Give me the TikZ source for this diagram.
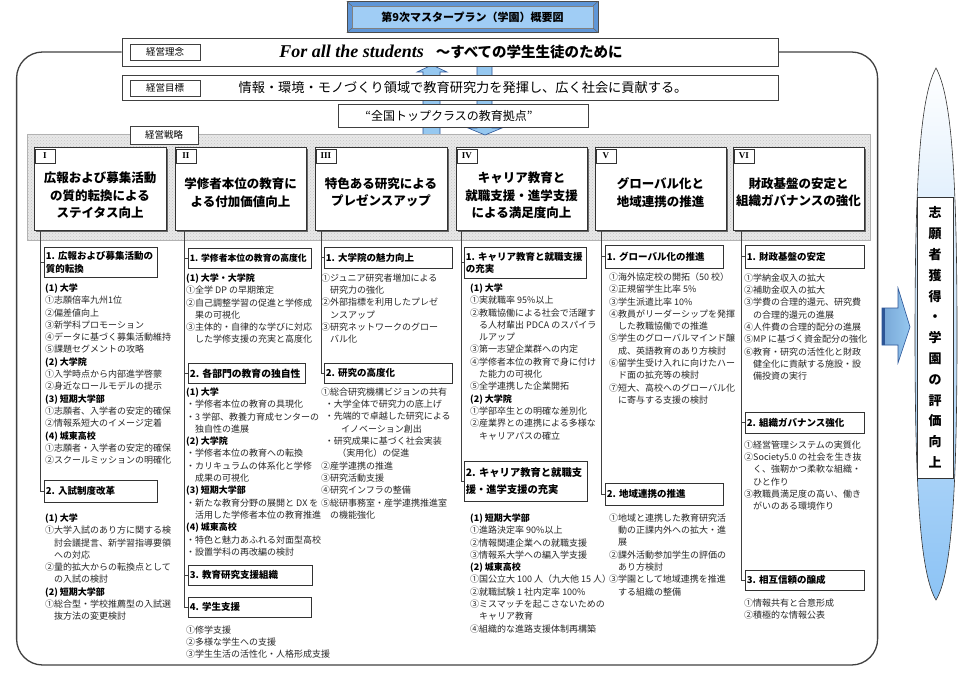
\documentclass[tikz,border=0pt]{standalone}
\usepackage{fontspec}
\setmainfont{Noto Sans CJK JP}
\newfontfamily\lat{Liberation Serif}
\usepackage{tikz}
\usetikzlibrary{positioning,shadows,patterns}
\definecolor{arrfill}{RGB}{150,200,240}
\definecolor{arrline}{RGB}{45,85,150}
\definecolor{ttlfill}{RGB}{160,205,245}
\definecolor{ttldark}{RGB}{95,150,215}
\definecolor{goalbot}{RGB}{140,195,245}
\newcommand\grp[1]{{\bfseries\color{black}#1}}
\newcommand\indt{\hspace*{1em}}
\tikzset{
  hd/.style    ={draw=black!75,fill=white,line width=0.8pt,minimum width=656pt,
                 inner sep=0pt},
  lbl/.style   ={draw=black!75,fill=white,line width=0.6pt,minimum width=70pt,
                 minimum height=16pt,inner sep=0pt,font=\fontsize{9.5}{10}\selectfont},
  sbox/.style  ={draw=black!80,fill=white,line width=0.7pt,minimum height=83pt,
                 inner sep=0pt,drop shadow={shadow xshift=2pt,shadow yshift=-2pt,
                 fill=black!60,opacity=1}},
  stitle/.style={align=center,inner sep=0pt,font=\bfseries\fontsize{12.5}{17.5}\selectfont},
  tag/.style   ={draw=black!80,fill=white,line width=0.6pt,minimum width=20pt,
                 minimum height=14pt,inner sep=0pt,anchor=north west,
                 font=\lat\bfseries\fontsize{9}{10}\selectfont,
                 drop shadow={shadow xshift=1.5pt,shadow yshift=-1.5pt,fill=black!55,opacity=1}},
  sub/.style 2 args={draw=black!80,fill=white,line width=0.6pt,anchor=north west,
                 align=left,inner xsep=1.5pt,inner ysep=0pt,text width=#1,minimum height=#2,
                 font=\bfseries\fontsize{9.5}{12.5}\selectfont,
                 drop shadow={shadow xshift=1pt,shadow yshift=-1pt,fill=black!45,opacity=1}},
  txt/.style   ={anchor=north west,align=left,inner sep=0pt,text=black!85,
                 font=\fontsize{9}{12.3}\selectfont},
  link/.style  ={draw=black!75,line width=0.7pt},
  frame/.style ={draw=black!75,line width=1.3pt,rounded corners=26pt},
  blk/.style   ={fill=arrfill,draw=arrline,line width=0.6pt},
}

\begin{document}
\begin{tikzpicture}[x=1pt,y=-1pt]
\useasboundingbox (0,0) rectangle (960,700);

%% ---------------- top: philosophy, goal, strategy panel ----------------
\node[hd,minimum height=28pt] (rinen) at (450,52) {};
\draw[frame] (rinen.west) -- ++(-105,0) -- ++(0,613) -- ++(861,0) -- ++(0,-613) -- (rinen.east);

\fill[preaction={fill=black!9},pattern=crosshatch dots,pattern color=black!22]
  (27,134) rectangle (870,240);
\draw[black!30,line width=0.5pt] (27,134) rectangle (870,240);

%% up and down block arrows between the boxes
\draw[blk] (423,134) -- (423,72) -- (417,72) -- (432,65) -- (447,72) -- (440,72) -- (440,134);
\draw[blk] (477,66) -- (477,128) -- (468,128) -- (485,135) -- (502,128) -- (492,128) -- (492,66);

\node[hd,minimum height=28pt] (rinen2) at (rinen.center) {};
\node[lbl] (rinenl) at (165,52) {経営理念};
\node[inner sep=0pt] (rinent) at (451,52)
  {{\lat\bfseries\itshape\fontsize{18}{20}\selectfont For all the students}\hspace{12pt}{\bfseries\fontsize{14.5}{16}\selectfont ～すべての学生生徒のために}};

\node[hd,minimum height=25pt] (mokuhyo) at (450,87.5) {};
\node[lbl] (mokuhyol) at (165,88) {経営目標};
\node[inner sep=0pt,font=\fontsize{13.2}{15}\selectfont] (mokuhyot) at (463,88)
  {情報・環境・モノづくり領域で教育研究力を発揮し、広く社会に貢献する。};

\node[draw=black!75,fill=white,line width=0.7pt,minimum width=250pt,minimum height=23pt,
      inner sep=0pt] (kyoten) at (463,115.5) {};
\node[inner sep=0pt,font=\fontsize{12}{14}\selectfont] (kyotent) at (449,115.5)
  {“全国トップクラスの教育拠点”};

\node[lbl,minimum width=68pt,minimum height=18pt] (senryaku) at (164,135) {経営戦略};

%% ---------------- six strategies ----------------
\node[sbox,minimum width=132pt] (sI)   at (100,188.5)   {};
\node[sbox,minimum width=131pt] (sII)  at (240.5,188.5) {};
\node[sbox,minimum width=132pt] (sIII) at (381,188.5)   {};
\node[sbox,minimum width=131pt] (sIV)  at (521.5,188.5) {};
\node[sbox,minimum width=131pt] (sV)   at (660.5,188.5) {};
\node[sbox,minimum width=131pt] (sVI)  at (798.5,188.5) {};

\foreach \s/\r in {I/I,II/II,III/III,IV/IV,V/V,VI/VI}
  \node[tag] (g\s) at ([shift={(1,2)}]s\s.north west) {\r};

\node[stitle] (tI)   at ([yshift=-7pt]sI.center)   {広報および募集活動\\の質的転換による\\ステイタス向上};
\node[stitle] (tII)  at ([yshift=-4pt]sII.center)  {学修者本位の教育に\\よる付加価値向上};
\node[stitle] (tIII) at ([yshift=-4pt]sIII.center) {特色ある研究による\\プレゼンスアップ};
\node[stitle] (tIV)  at ([yshift=-7pt]sIV.center)  {キャリア教育と\\就職支援・進学支援\\による満足度向上};
\node[stitle] (tV)   at ([yshift=-4pt]sV.center)   {グローバル化と\\地域連携の推進};
\node[stitle] (tVI)  at ([yshift=-4pt]sVI.center)  {財政基盤の安定と\\組織ガバナンスの強化};

%% spines under each strategy
\coordinate (pI)   at ([xshift=7pt]sI.south west);
\coordinate (pII)  at ([xshift=10pt]sII.south west);
\coordinate (pIII) at ([xshift=7pt]sIII.south west);
\coordinate (pIV)  at ([xshift=6pt]sIV.south west);
\coordinate (pV)   at ([xshift=7pt]sV.south west);
\coordinate (pVI)  at ([xshift=9pt]sVI.south west);

%% ---------------- column I ----------------
\node[sub={110pt}{30pt}] (aI1) at (44,247) {1.~広報および募集活動の\\質的転換};
\node[sub={110pt}{22pt}] (aI2) at (44,480) {2.~入試制度改革};
\foreach \b in {aI1,aI2} \draw[link] (pI) |- (\b.west);
\node[txt] (xI1) at (45,283.5) {\grp{(1) 大学}\\①志願倍率九州1位\\②偏差値向上\\③新学科プロモーション\\④データに基づく募集活動維持\\⑤課題セグメントの攻略\\\grp{(2) 大学院}\\①入学時点から内部進学啓蒙\\②身近なロールモデルの提示\\\grp{(3) 短期大学部}\\①志願者、入学者の安定的確保\\②情報系短大のイメージ定着\\\grp{(4) 城東高校}\\①志願者・入学者の安定的確保\\②スクールミッションの明確化};
\node[txt] (xI2) at (45,513.5) {\grp{(1) 大学}\\①大学入試のあり方に関する検\\\indt 討会議提言、新学習指導要領\\\indt への対応\\②量的拡大からの転換点として\\\indt の入試の検討\\\grp{(2) 短期大学部}\\①総合型・学校推薦型の入試選\\\indt 抜方法の変更検討};

%% ---------------- column II ----------------
\node[sub={120pt}{20pt},font=\bfseries\fontsize{8.8}{11}\selectfont] (aII1) at (188,248) {1.~学修者本位の教育の高度化};
\node[sub={114pt}{20pt},font=\bfseries\fontsize{9.8}{12}\selectfont] (aII2) at (188,363) {2.~各部門の教育の独自性};
\node[sub={121pt}{20pt}] (aII3) at (188,565) {3.~教育研究支援組織};
\node[sub={120pt}{20pt}] (aII4) at (188,597) {4.~学生支援};
\foreach \b in {aII1,aII2,aII3,aII4} \draw[link] (pII) |- (\b.west);
\node[txt] (xII1) at (186,273.5) {\grp{(1) 大学・大学院}\\①全学 DP の早期策定\\②自己調整学習の促進と学修成\\\indt 果の可視化\\③主体的・自律的な学びに対応\\\indt した学修支援の充実と高度化};
\node[txt] (xII2) at (186,387.5) {\grp{(1) 大学}\\・学修者本位の教育の具現化\\・3 学部、教養力育成センターの\\\indt 独自性の進展\\\grp{(2) 大学院}\\・学修者本位の教育への転換\\・カリキュラムの体系化と学修\\\indt 成果の可視化\\\grp{(3) 短期大学部}\\・新たな教育分野の展開と DX を\\\indt 活用した学修者本位の教育推進\\\grp{(4) 城東高校}\\・特色と魅力あふれる対面型高校\\・設置学科の再改編の検討};
\node[txt] (xII3) at (186,625.5) {①修学支援\\②多様な学生への支援\\③学生生活の活性化・人格形成支援};

%% ---------------- column III ----------------
\node[sub={125pt}{21pt}] (aIII1) at (324,247) {1.~大学院の魅力向上};
\node[sub={125pt}{20pt}] (aIII2) at (324,363) {2.~研究の高度化};
\foreach \b in {aIII1,aIII2} \draw[link] (pIII) |- (\b.west);
\node[txt] (xIII1) at (321,273.5) {①ジュニア研究者増加による\\\indt 研究力の強化\\②外部指標を利用したプレゼ\\\indt ンスアップ\\③研究ネットワークのグロー\\\indt バル化};
\node[txt] (xIII2) at (321,387.5) {①総合研究機構ビジョンの共有\\\hspace*{.4em}・大学全体で研究力の底上げ\\\hspace*{.4em}・先端的で卓越した研究による\\\hspace*{2.2em}イノベーション創出\\\hspace*{.4em}・研究成果に基づく社会実装\\\hspace*{1.8em}（実用化）の促進\\②産学連携の推進\\③研究活動支援\\④研究インフラの整備\\⑤総研事務室・産学連携推進室\\\indt の機能強化};

%% ---------------- column IV ----------------
\node[sub={119pt}{31pt}] (aIV1) at (464,247) {1.~キャリア教育と就職支援\\の充実};
\node[sub={120pt}{40pt},font=\bfseries\fontsize{10.3}{17}\selectfont] (aIV2) at (464,461) {2.~キャリア教育と就職支\\援・進学支援の充実};
\foreach \b in {aIV1,aIV2} \draw[link] (pIV) |- (\b.west);
\node[txt] (xIV1) at (470,283.5) {\grp{(1) 大学}\\①実就職率 95\%以上\\②教職協働による社会で活躍す\\\indt る人材輩出 PDCA のスパイラ\\\indt ルアップ\\③第一志望企業群への内定\\④学修者本位の教育で身に付け\\\indt た能力の可視化\\⑤全学連携した企業開拓\\\grp{(2) 大学院}\\①学部卒生との明確な差別化\\②産業界との連携による多様な\\\indt キャリアパスの確立};
\node[txt] (xIV2) at (470,513.5) {\grp{(1) 短期大学部}\\①進路決定率 90\%以上\\②情報関連企業への就職支援\\③情報系大学への編入学支援\\\grp{(2) 城東高校}\\①国公立大 100 人（九大他 15 人）\\②就職試験 1 社内定率 100\%\\③ミスマッチを起こさないための\\\indt キャリア教育\\④組織的な進路支援体制再構築};

%% ---------------- column V ----------------
\node[sub={115pt}{23pt}] (aV1) at (605,245) {1.~グローバル化の推進};
\node[sub={115pt}{22pt}] (aV2) at (605,483) {2.~地域連携の推進};
\foreach \b in {aV1,aV2} \draw[link] (pV) |- (\b.west);
\node[txt] (xV1) at (609,272.5) {①海外協定校の開拓（50 校）\\②正規留学生比率 5\%\\③学生派遣比率 10\%\\④教員がリーダーシップを発揮\\\indt した教職協働での推進\\⑤学生のグローバルマインド醸\\\indt 成、英語教育のあり方検討\\⑥留学生受け入れに向けたハー\\\indt ド面の拡充等の検討\\⑦短大、高校へのグローバル化\\\indt に寄与する支援の検討};
\node[txt] (xV2) at (609,513.5) {①地域と連携した教育研究活\\\indt 動の正課内外への拡大・進\\\indt 展\\②課外活動参加学生の評価の\\\indt あり方検討\\③学園として地域連携を推進\\\indt する組織の整備};

%% ---------------- column VI ----------------
\node[sub={116pt}{23pt}] (aVI1) at (745,245) {1.~財政基盤の安定};
\node[sub={116pt}{21pt}] (aVI2) at (745,412) {2.~組織ガバナンス強化};
\node[sub={116pt}{20pt}] (aVI3) at (745,570) {3.~相互信頼の醸成};
\foreach \b in {aVI1,aVI2,aVI3} \draw[link] (pVI) |- (\b.west);
\node[txt] (xVI1) at (744,273.5) {①学納金収入の拡大\\②補助金収入の拡大\\③学費の合理的還元、研究費\\\indt の合理的還元の進展\\④人件費の合理的配分の進展\\⑤MP に基づく資金配分の強化\\⑥教育・研究の活性化と財政\\\indt 健全化に貢献する施設・設\\\indt 備投資の実行};
\node[txt] (xVI2) at (744,440.5) {①経営管理システムの実質化\\②Society5.0 の社会を生き抜\\\indt く、強靭かつ柔軟な組織・\\\indt ひと作り\\③教職員満足度の高い、働き\\\indt がいのある環境作り};
\node[txt] (xVI3) at (744,598.5) {①情報共有と合意形成\\②積極的な情報公表};

%% ---------------- outcome on the right ----------------
\draw[black!80,line width=0.6pt,top color=white,middle color=blue!4,bottom color=goalbot]
  (936,68) .. controls (951,95) and (957,170) .. (957,335)
  .. controls (957,500) and (951,575) .. (936,600)
  .. controls (921,575) and (915,500) .. (915,335)
  .. controls (915,170) and (921,95) .. (936,68) -- cycle;
\node[draw=black!80,fill=white,line width=0.6pt,minimum width=36pt,minimum height=281pt,
      inner sep=0pt,align=center,font=\bfseries\fontsize{13}{20.8}\selectfont] (goal) at (935,337.5)
  {志\\願\\者\\獲\\得\\・\\学\\園\\の\\評\\価\\向\\上};
\draw[blk,left color=arrfill!70!arrline,right color=arrfill]
  (882,308) -- (898,308) -- (898,288) -- (910,327) -- (898,363) -- (898,345) -- (882,345) -- cycle;
\fill[arrline] (882,308) rectangle (885,345);

%% ---------------- title ----------------
\node[draw=black!70,fill=ttldark,minimum width=251pt,minimum height=31pt,inner sep=0pt] (ttl) at (472.5,17) {};
\node[draw=black!50,fill=ttlfill,minimum width=241pt,minimum height=22pt,inner sep=0pt,
      font=\bfseries\fontsize{11}{13}\selectfont] (ttlin) at (ttl.center) {第9次マスタープラン（学園）概要図};
\foreach \a in {north west,north east,south west,south east}
  \draw[black!60,line width=0.5pt] (ttl.\a) -- (ttlin.\a);

\end{tikzpicture}
\end{document}
